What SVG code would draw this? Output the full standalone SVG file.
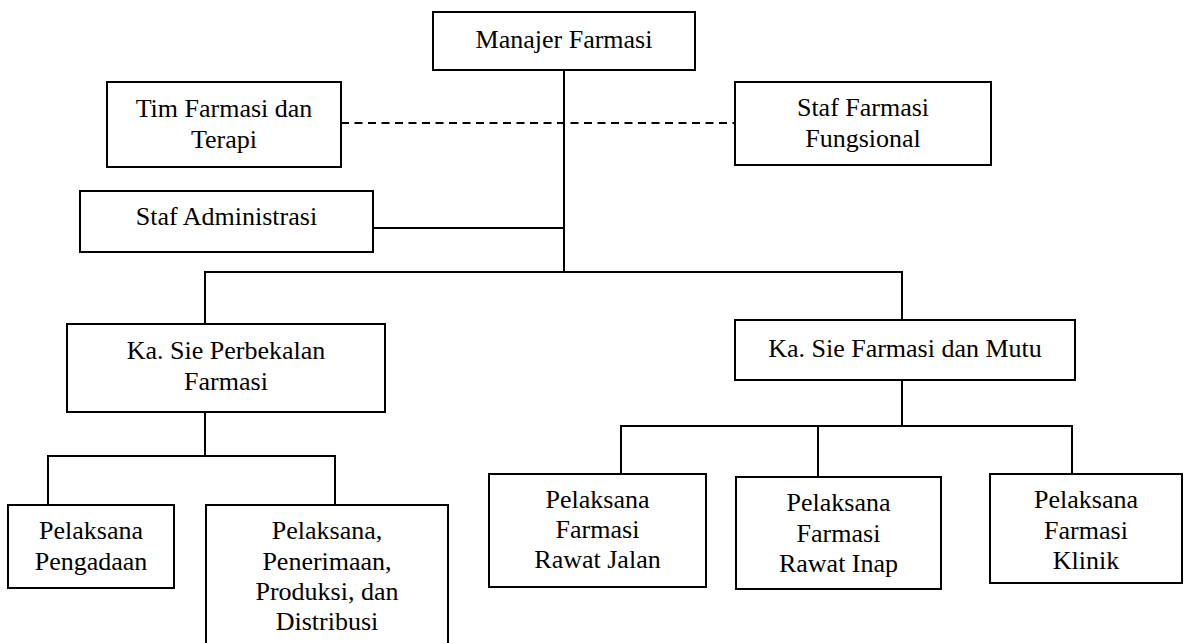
<svg xmlns="http://www.w3.org/2000/svg" width="1189" height="643" viewBox="0 0 1189 643">
<style>
rect{fill:#fff;stroke:#000;stroke-width:2}
text{font-family:'Liberation Serif','Times New Roman','DejaVu Serif',serif;font-size:26px;fill:#000;text-anchor:middle}
.c line,.c polyline{stroke:#000;stroke-width:2;fill:none}
.d{stroke-dasharray:8 5.5}
</style>
<rect x="0" y="0" width="1189" height="643" style="stroke:none"/>
<g class="c" id="connectors">
<line x1="564" y1="70" x2="564" y2="272"/>
<line class="d" x1="341" y1="123" x2="735" y2="123"/>
<line x1="373" y1="228" x2="564" y2="228"/>
<polyline points="205,324 205,272 902,272 902,320"/>
<line x1="205" y1="412" x2="205" y2="456"/>
<polyline points="48,505 48,456 335,456 335,505"/>
<line x1="902" y1="380" x2="902" y2="426"/>
<polyline points="621,474 621,426 1072,426 1072,474"/>
<line x1="818" y1="426" x2="818" y2="477"/>
</g>
<g font-family="Liberation Serif, Times New Roman, DejaVu Serif, serif">
<g id="manajer"><rect x="433" y="12" width="262" height="58"/><text x="564" y="48">Manajer Farmasi</text></g>
<g id="tim"><rect x="107" y="82" width="234" height="85"/><text x="224" y="117">Tim Farmasi dan</text><text x="224" y="148">Terapi</text></g>
<g id="staffungsional"><rect x="735" y="82" width="256" height="83"/><text x="863" y="116">Staf Farmasi</text><text x="863" y="147">Fungsional</text></g>
<g id="stafadmin"><rect x="80" y="191" width="293" height="61"/><text x="226.5" y="225">Staf Administrasi</text></g>
<g id="perbekalan"><rect x="67" y="324" width="318" height="88"/><text x="226" y="359">Ka. Sie Perbekalan</text><text x="226" y="390">Farmasi</text></g>
<g id="mutu"><rect x="735" y="320" width="340" height="60"/><text x="905" y="357">Ka. Sie Farmasi dan Mutu</text></g>
<g id="pengadaan"><rect x="8" y="505" width="166" height="83"/><text x="91" y="539">Pelaksana</text><text x="91" y="570">Pengadaan</text></g>
<g id="penerimaan"><rect x="206" y="505" width="242" height="150"/><text x="327" y="539">Pelaksana,</text><text x="327" y="570">Penerimaan,</text><text x="327" y="600">Produksi, dan</text><text x="327" y="630">Distribusi</text></g>
<g id="rawatjalan"><rect x="489" y="474" width="217" height="113"/><text x="597.5" y="508">Pelaksana</text><text x="597.5" y="538">Farmasi</text><text x="597.5" y="568">Rawat Jalan</text></g>
<g id="rawatinap"><rect x="736" y="477" width="205" height="112"/><text x="838.5" y="511">Pelaksana</text><text x="838.5" y="542">Farmasi</text><text x="838.5" y="572">Rawat Inap</text></g>
<g id="klinik"><rect x="990" y="474" width="192" height="109"/><text x="1086" y="508">Pelaksana</text><text x="1086" y="539">Farmasi</text><text x="1086" y="569">Klinik</text></g>
</g>
</svg>
